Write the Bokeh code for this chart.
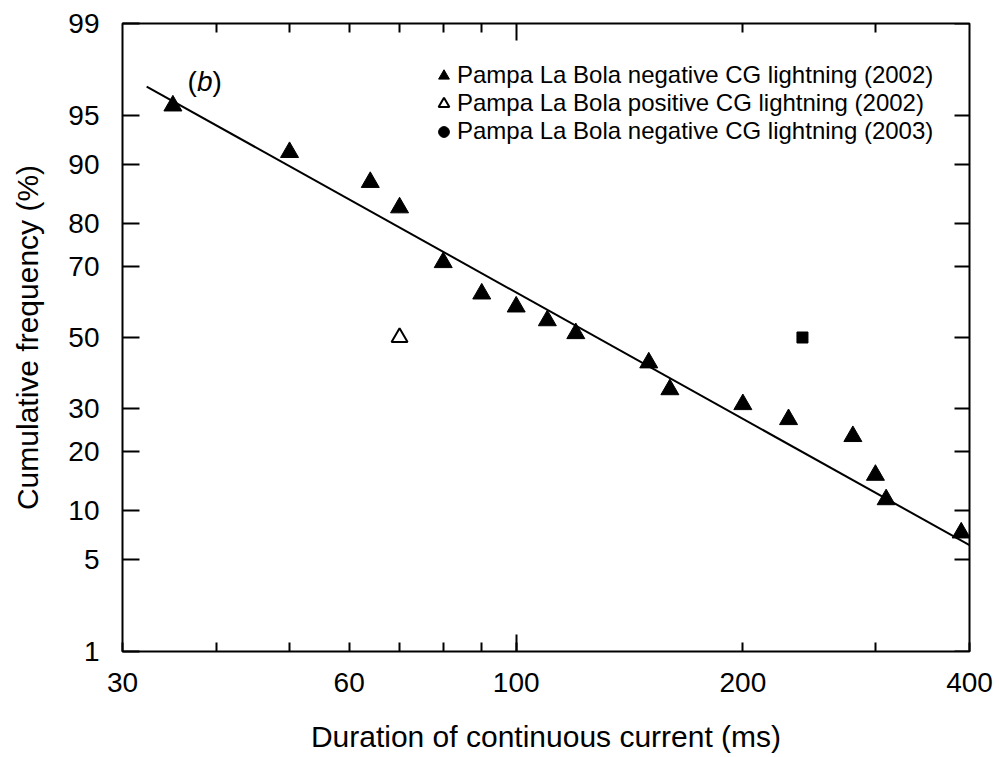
import math
from bokeh.plotting import figure
from bokeh.models import (FixedTicker, LinearAxis, LogAxis, Legend, LegendItem, Label,
                          ColumnDataSource, Range1d, PrintfTickFormatter)
from bokeh.embed import file_html
from bokeh.resources import INLINE

FONT = "Liberation Sans"

# ---- data ----
neg2002_ms = [35, 50, 64, 70, 80, 90, 100, 110, 120, 150, 160, 200, 230, 280, 300, 310, 390]
neg2002_pct = [95.7, 91.5, 87.5, 83.2, 71.1, 62.7, 59.0, 55.0, 51.2, 42.6, 35.0, 31.0, 27.2, 23.2, 15.4, 11.5, 7.4]
pos2002_ms = [70]
pos2002_pct = [50]
neg2003_ms = [240]
neg2003_pct = [50]
fit_ms = [32.3, 400]
fit_pct = [96.85, 6.2]

x_major = [30, 60, 100, 200, 400]
x_minor = [40, 50, 70, 80, 90, 300]
x_long = [100]
y_ticks_pct = [1, 5, 10, 20, 30, 50, 70, 80, 90, 95, 99]

label_b_ms = 36.6
label_b_pct = 97.1


def probit(pct):
    """Inverse standard normal CDF of a percentage (normal probability scale)."""
    q = pct / 100.0
    lo, hi = -10.0, 10.0
    for _ in range(200):
        mid = (lo + hi) / 2
        if 0.5 * (1 + math.erf(mid / math.sqrt(2))) < q:
            lo = mid
        else:
            hi = mid
    return round((lo + hi) / 2, 9)


y_ticks = [probit(v) for v in y_ticks_pct]
y_lo, y_hi = probit(1), probit(99)

p = figure(width=999, height=757, x_axis_type="log",
           x_range=Range1d(30, 400), y_range=Range1d(y_lo, y_hi),
           x_axis_location=None, y_axis_location=None,
           output_backend="svg", toolbar_location=None,
           min_border_left=122, min_border_right=30, min_border_top=23, min_border_bottom=106)
p.grid.visible = False
p.outline_line_color = "black"
p.outline_line_width = 2
p.outline_line_alpha = 1.0
p.background_fill_color = "white"
p.border_fill_color = "white"


def style(ax, tick_in, minor_in=0):
    ax.axis_line_color = None
    ax.major_tick_in = tick_in
    ax.major_tick_out = 0
    ax.minor_tick_in = minor_in
    ax.minor_tick_out = 0
    ax.major_tick_line_width = 2
    ax.minor_tick_line_width = 2
    ax.major_tick_line_color = "black"
    ax.minor_tick_line_color = "black"
    ax.major_label_text_font = FONT
    ax.major_label_text_color = "black"
    ax.axis_label_text_font = FONT
    ax.axis_label_text_font_style = "normal"
    ax.axis_label_text_color = "black"


# bottom axis with labels
xb = LogAxis(ticker=FixedTicker(ticks=x_major, minor_ticks=x_minor),
             formatter=PrintfTickFormatter(format="%d"),
             axis_label="Duration of continuous current (ms)")
style(xb, 9, 9)
xb.major_label_text_font_size = "28px"
xb.major_label_standoff = 21
xb.axis_label_text_font_size = "30px"
xb.axis_label_standoff = 25
p.add_layout(xb, "below")

# longer tick at 100 (bottom)
xb2 = LogAxis(ticker=FixedTicker(ticks=x_long, minor_ticks=[]), fixed_location=y_lo,
              major_label_overrides={v: "" for v in x_long})
style(xb2, 17)
p.add_layout(xb2, "below")

# top axis (ticks only)
xt = LogAxis(ticker=FixedTicker(ticks=x_long, minor_ticks=x_minor + [60, 200]),
             fixed_location=y_hi, major_label_overrides={v: "" for v in x_long})
style(xt, 17, 9)
p.add_layout(xt, "above")

# left axis (normal probability scale)
yl = LinearAxis(ticker=FixedTicker(ticks=y_ticks, minor_ticks=[]),
                major_label_overrides={z: str(v) for z, v in zip(y_ticks, y_ticks_pct)},
                axis_label="Cumulative frequency (%)")
style(yl, 17)
yl.major_label_text_font_size = "28px"
yl.major_label_standoff = 23
yl.axis_label_text_font_size = "30px"
yl.axis_label_standoff = 21
p.add_layout(yl, "left")

# right axis (ticks only)
yr = LinearAxis(ticker=FixedTicker(ticks=y_ticks, minor_ticks=[]), fixed_location=400,
                major_label_overrides={z: "" for z in y_ticks})
style(yr, 15)
p.add_layout(yr, "right")

# fitted line
p.line([float(v) for v in fit_ms], [probit(v) for v in fit_pct], line_color="black", line_width=2)

src_neg02 = ColumnDataSource(dict(x=neg2002_ms, y=[probit(v) for v in neg2002_pct]))
r_neg02 = p.scatter("x", "y", source=src_neg02, marker="triangle", size=18,
                    fill_color="black", line_color="black", line_width=1)
src_pos02 = ColumnDataSource(dict(x=pos2002_ms, y=[probit(v) for v in pos2002_pct]))
r_pos02 = p.scatter("x", "y", source=src_pos02, marker="triangle", size=16,
                    fill_color="white", line_color="black", line_width=2)
src_neg03 = ColumnDataSource(dict(x=neg2003_ms, y=[probit(v) for v in neg2003_pct]))
p.scatter("x", "y", source=src_neg03, marker="square", size=11,
          fill_color="black", line_color="black", line_width=1)
# legend symbol for the 2003 series is a dot (hidden renderer, shown only in the legend)
r_leg03 = p.scatter("x", "y", source=src_neg03, marker="circle", size=10,
                    fill_color="black", line_color="black", visible=False)

legend = Legend(items=[
    LegendItem(label="Pampa La Bola negative CG lightning (2002)", renderers=[r_neg02]),
    LegendItem(label="Pampa La Bola positive CG lightning (2002)", renderers=[r_pos02]),
    LegendItem(label="Pampa La Bola negative CG lightning (2003)", renderers=[r_leg03]),
], location=(308, 506), orientation="vertical",
    border_line_color=None, background_fill_alpha=0,
    label_text_font=FONT, label_text_font_size="24px", label_text_color="black",
    glyph_width=27, glyph_height=27, spacing=0, label_standoff=0,
    label_height=27, padding=0, margin=0,
    inactive_fill_alpha=0, click_policy="none")
p.add_layout(legend)

# panel label "(b)"
lb_y = probit(label_b_pct)
for txt, off, style_ in [("(", 0, "normal"), ("b", 9.5, "italic"), (")", 25, "normal")]:
    p.add_layout(Label(x=label_b_ms, y=lb_y, text=txt, x_offset=off,
                       text_font=FONT, text_font_size="28px", text_font_style=style_,
                       text_baseline="middle", text_color="black"))

open("out.html", "w").write(file_html(p, INLINE))
